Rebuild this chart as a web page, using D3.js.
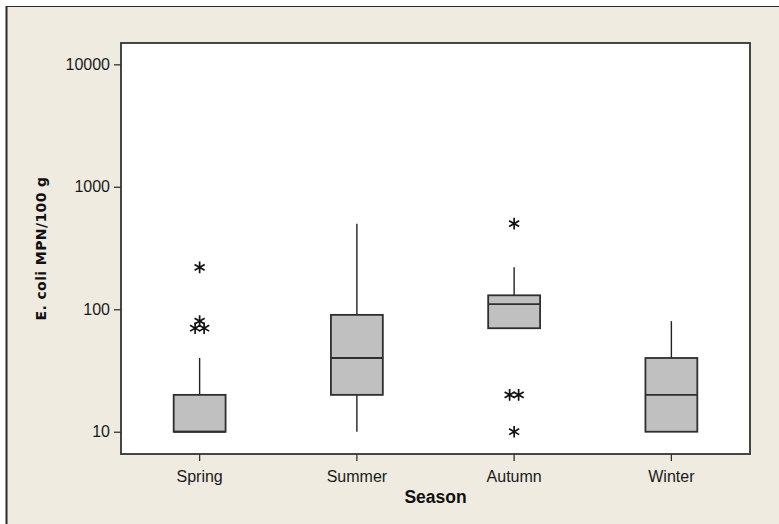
<!DOCTYPE html>
<html><head><meta charset="utf-8">
<script src="https://cdn.jsdelivr.net/npm/d3@7"></script>
<style>
html,body{margin:0;padding:0;background:#fff;}
svg{display:block;}
</style></head>
<body>
<svg id="chart" width="779" height="524"></svg>
<script>
// ---- data ----
const categories = ["Spring", "Summer", "Autumn", "Winter"];
const q1Values = [10, 20, 70, 10];
const medianValues = [10, 40, 110, 20];
const q3Values = [20, 90, 130, 40];
const whiskerLow = [10, 10, 70, 10];
const whiskerHigh = [40, 500, 220, 80];
const outlierSeason = ["Spring", "Spring", "Spring", "Spring", "Autumn", "Autumn", "Autumn", "Autumn"];
const outlierValue = [220, 80, 70, 70, 500, 20, 20, 10];
const yTicks = [10, 100, 1000, 10000];
const xTitle = "Season";
const yTitle = "E. coli MPN/100 g";

// ---- layout ----
const W = 779, H = 524;
const plot = {left: 121, top: 43, right: 750, bottom: 454};
const svg = d3.select("#chart");

svg.append("rect").attr("x", 6).attr("y", 6).attr("width", W).attr("height", H)
  .attr("fill", "#efebe1");
svg.append("line").attr("x1", 6.5).attr("x2", 6.5).attr("y1", 6).attr("y2", H)
  .attr("stroke", "#2a2a2a").attr("stroke-width", 2);
svg.append("line").attr("x1", 6).attr("x2", W).attr("y1", 6.5).attr("y2", 6.5)
  .attr("stroke", "#2a2a2a").attr("stroke-width", 1.2);

const x = d3.scaleBand().domain(categories).range([plot.left, plot.right]).padding(0);
const y = d3.scaleLog().domain([6.58, 14930]).range([plot.bottom, plot.top]);

svg.append("rect").attr("x", plot.left).attr("y", plot.top)
  .attr("width", plot.right - plot.left).attr("height", plot.bottom - plot.top)
  .attr("fill", "#fff").attr("stroke", "#333").attr("stroke-width", 1.8);

const font = "'Liberation Sans', Arial, sans-serif";

// axes
const yAxis = svg.append("g").attr("transform", `translate(${plot.left},0)`)
  .call(d3.axisLeft(y).tickValues(yTicks).tickFormat(d3.format("d")).tickSize(7).tickPadding(4));
const xAxis = svg.append("g").attr("transform", `translate(0,${plot.bottom})`)
  .call(d3.axisBottom(x).tickSize(7).tickPadding(6));
[yAxis, xAxis].forEach(g => {
  g.select(".domain").remove();
  g.selectAll(".tick line").attr("stroke", "#333").attr("stroke-width", 1.3);
  g.selectAll(".tick text").attr("fill", "#1a1a1a").style("font-family", font).style("font-size", "16px");
});
xAxis.selectAll(".tick text").attr("dy", "0.95em");

// boxes
const bw = x.bandwidth() * 0.33;
const cx = c => x(c) + x.bandwidth() / 2;
const boxes = svg.append("g");
categories.forEach((c, i) => {
  const g = boxes.append("g");
  if (whiskerHigh[i] > q3Values[i])
    g.append("line").attr("x1", cx(c)).attr("x2", cx(c)).attr("y1", y(q3Values[i])).attr("y2", y(whiskerHigh[i]))
      .attr("stroke", "#222").attr("stroke-width", 1.4);
  if (whiskerLow[i] < q1Values[i])
    g.append("line").attr("x1", cx(c)).attr("x2", cx(c)).attr("y1", y(q1Values[i])).attr("y2", y(whiskerLow[i]))
      .attr("stroke", "#222").attr("stroke-width", 1.4);
  g.append("rect").attr("x", cx(c) - bw / 2).attr("y", y(q3Values[i]))
    .attr("width", bw).attr("height", y(q1Values[i]) - y(q3Values[i]))
    .attr("fill", "#c0c0c0").attr("stroke", "#2e2e2e").attr("stroke-width", 1.8);
  g.append("line").attr("x1", cx(c) - bw / 2).attr("x2", cx(c) + bw / 2)
    .attr("y1", y(medianValues[i])).attr("y2", y(medianValues[i]))
    .attr("stroke", "#2e2e2e").attr("stroke-width", 1.8);
});

// outliers (asterisks), duplicates placed side by side
const groups = d3.group(outlierSeason.map((s, i) => ({s, v: outlierValue[i]})), d => d.s + "|" + d.v);
const r = 5.8;
const starPath = `M0,${-r}L0,${r}M${-r*0.87},${-r*0.5}L${r*0.87},${r*0.5}M${-r*0.87},${r*0.5}L${r*0.87},${-r*0.5}`;
groups.forEach(arr => {
  const n = arr.length;
  arr.forEach((d, k) => {
    const off = (k - (n - 1) / 2) * 9;
    svg.append("path").attr("d", starPath)
      .attr("transform", `translate(${cx(d.s) + off},${y(d.v)})`)
      .attr("stroke", "#111").attr("stroke-width", 1.7).attr("fill", "none");
  });
});

// titles
svg.append("text").attr("x", (plot.left + plot.right) / 2).attr("y", 502.5)
  .attr("text-anchor", "middle").style("font-family", font).style("font-weight", "bold")
  .style("font-size", "17.5px").attr("fill", "#111").text(xTitle);
svg.append("text").attr("transform", `translate(45.5,${(plot.top + plot.bottom) / 2}) rotate(-90)`)
  .attr("text-anchor", "middle").style("font-family", "'DejaVu Sans', sans-serif").style("font-weight", "bold")
  .style("font-size", "14px").style("letter-spacing", "0.4px").attr("fill", "#111").text(yTitle);
</script>
</body></html>
